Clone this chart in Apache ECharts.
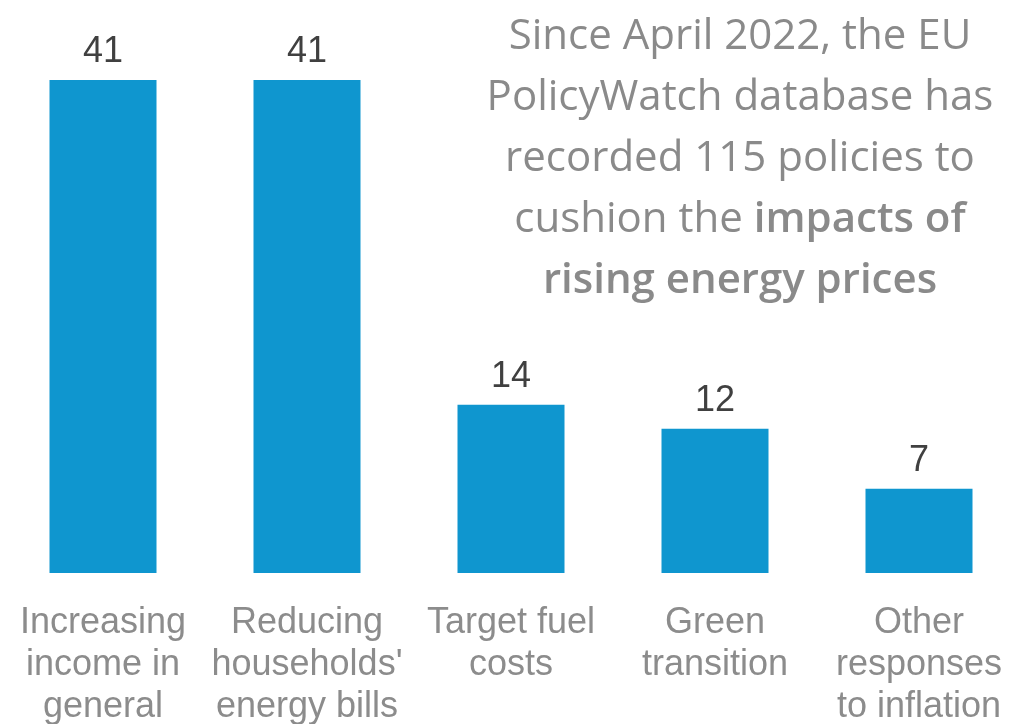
<!DOCTYPE html>
<html>
<head>
<meta charset="utf-8">
<script src="https://cdn.jsdelivr.net/npm/echarts@6/dist/echarts.min.js"></script>
<style>
  html, body { margin: 0; padding: 0; background: #ffffff; }
  #chart { width: 1010px; height: 724px; }
</style>
</head>
<body>
<div id="chart"></div>
<script>
const categories = [
  "Increasing\nincome in\ngeneral",
  "Reducing\nhouseholds'\nenergy bills",
  "Target fuel\ncosts",
  "Green\ntransition",
  "Other\nresponses\nto inflation"
];
const values = [41, 41, 14, 12, 7];
const noteLines = [
  "{n|Since April 2022, the EU}",
  "{n|PolicyWatch database has}",
  "{n|recorded 115 policies to}",
  "{n|cushion the }{b|impacts of}",
  "{b|rising energy prices}"
];

const chart = echarts.init(document.getElementById('chart'), null, { renderer: 'canvas' });
chart.setOption({
  animation: false,
  backgroundColor: '#ffffff',
  grid: { left: 1, width: 1020, top: 80, bottom: 151, containLabel: false, outerBoundsMode: 'none' },
  xAxis: {
    type: 'category',
    data: categories,
    axisLine: { show: false },
    axisTick: { show: false },
    axisLabel: {
      interval: 0,
      margin: 29,
      color: '#8c8c8c',
      fontFamily: '"Liberation Sans", Arial, sans-serif',
      fontSize: 36,
      lineHeight: 42,
      verticalAlign: 'top'
    }
  },
  yAxis: {
    type: 'value',
    min: 0,
    max: Math.max.apply(null, values),
    show: false,
    splitLine: { show: false }
  },
  series: [{
    type: 'bar',
    data: values,
    barWidth: 107,
    itemStyle: { color: '#0f96cf' },
    label: {
      show: true,
      position: 'top',
      distance: 10,
      color: '#404040',
      fontFamily: '"Liberation Sans", Arial, sans-serif',
      fontSize: 36
    }
  }],
  graphic: [{
    type: 'text',
    x: 740,
    y: 7,
    style: {
      text: noteLines.join('\n'),
      align: 'center',
      verticalAlign: 'top',
      fill: '#8a8a8a',
      rich: {
        n: { fontFamily: '"Open Sans", sans-serif', fontSize: 42, lineHeight: 61, fill: '#8a8a8a', fontWeight: 'normal' },
        b: { fontFamily: '"Open Sans", sans-serif', fontSize: 42, lineHeight: 61, fill: '#8a8a8a', fontWeight: 600 }
      }
    }
  }]
});
</script>
</body>
</html>
